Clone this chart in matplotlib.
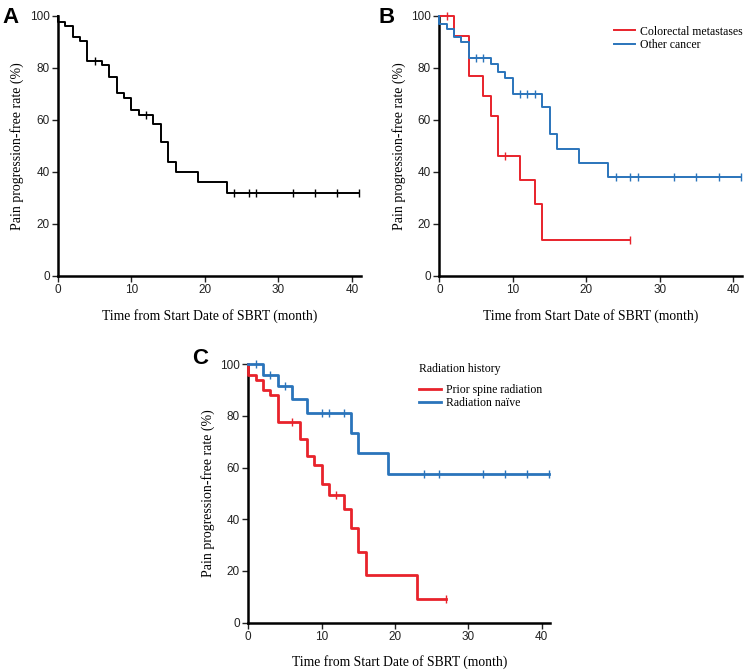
import numpy as np
import matplotlib
matplotlib.use('Agg')
import matplotlib.pyplot as plt

# Panel A: all patients
a_times = [0, 0, 1, 2, 3, 4, 6, 7, 8, 9, 10, 11, 13, 14, 15, 16, 19, 23, 41]
a_surv = [100, 97.5, 96, 92, 90.5, 82.5, 81, 76.5, 70.5, 68.5, 64, 62, 58.5, 51.5, 44, 40, 36, 32, 32]
a_cens = [5, 12, 24, 26, 27, 32, 35, 38, 41]

# Panel B: colorectal metastases vs other cancer
b_red_times = [0, 2, 4, 6, 7, 8, 11, 13, 14, 26]
b_red_surv = [100, 92.3, 76.9, 69.2, 61.5, 46.1, 36.9, 27.7, 13.8, 13.8]
b_red_cens = [1, 9, 26]
b_blue_times = [0, 0, 1, 2, 3, 4, 7, 8, 9, 10, 14, 15, 16, 19, 23, 41]
b_blue_surv = [100, 97, 95, 92, 90, 84, 81.5, 78.5, 76, 70, 65, 54.5, 49, 43.5, 38, 38]
b_blue_cens = [5, 6, 11, 12, 13, 24, 26, 27, 32, 35, 38, 41]

# Panel C: prior spine radiation vs radiation naive
c_red_times = [0, 0, 1, 2, 3, 4, 7, 8, 9, 10, 11, 13, 14, 15, 16, 23, 27]
c_red_surv = [100, 96, 94, 90, 88, 77.5, 71, 64.5, 61, 53.5, 49.5, 44, 36.5, 27.5, 18.5, 9.2, 9.2]
c_red_cens = [6, 12, 27]
c_blue_times = [0, 2, 4, 6, 8, 14, 15, 19, 41]
c_blue_surv = [100, 96, 91.5, 86.5, 81, 73.5, 65.5, 57.5, 57.5]
c_blue_cens = [1, 3, 5, 10, 11, 13, 24, 26, 32, 35, 38, 41]

x_ticks = [0, 10, 20, 30, 40]
y_ticks = [0, 20, 40, 60, 80, 100]

RED = '#e8232b'
BLUE = '#2a74bb'
SERIF = 'Liberation Serif'
SANS = 'Liberation Sans'

plt.rcParams['font.family'] = SANS


def km(ax, times, surv, cens, color, lw, label=None):
    times = np.asarray(times, float)
    surv = np.asarray(surv, float)
    ax.step(times, surv, where='post', color=color, lw=lw, label=label, clip_on=False, zorder=3)
    idx = np.searchsorted(times, cens, side='right') - 1
    ax.plot(cens, surv[idx], ls='none', marker='|', ms=6, mew=1.0, color=color, clip_on=False, zorder=3)


def style(ax):
    ax.set_xlim(0, 41.2)
    ax.set_ylim(0, 100)
    ax.spines['top'].set_visible(False)
    ax.spines['right'].set_visible(False)
    ax.spines['left'].set_linewidth(1.8)
    ax.spines['bottom'].set_linewidth(1.8)
    ax.set_xticks(x_ticks)
    ax.set_yticks(y_ticks)
    ax.tick_params(direction='out', length=4, width=1, labelsize=8.5, pad=2, colors='#222222')
    ax.set_xlabel('Time from Start Date of SBRT (month)', family=SERIF, fontsize=9.8, labelpad=9)
    ax.set_ylabel('Pain progression-free rate (%)', family=SERIF, fontsize=10, labelpad=4)


fig = plt.figure(figsize=(7.46, 6.72), dpi=100)

axA = fig.add_axes([0.0777, 0.5893, 0.4058, 0.3869])
km(axA, a_times, a_surv, a_cens, 'black', 1.4)
style(axA)

axB = fig.add_axes([0.5889, 0.5893, 0.4058, 0.3869])
km(axB, b_red_times, b_red_surv, b_red_cens, RED, 1.4, 'Colorectal metastases')
km(axB, b_blue_times, b_blue_surv, b_blue_cens, BLUE, 1.4, 'Other cancer')
style(axB)
axB.legend(loc='upper left', bbox_to_anchor=(0.577, 0.963), frameon=False, borderpad=0,
           borderaxespad=0, handlelength=1.8, handletextpad=0.4, labelspacing=0.15,
           prop={'family': SERIF, 'size': 8.5})

axC = fig.add_axes([0.3328, 0.0734, 0.4051, 0.3845])
km(axC, c_red_times, c_red_surv, c_red_cens, RED, 2.0, 'Prior spine radiation')
km(axC, c_blue_times, c_blue_surv, c_blue_cens, BLUE, 2.0, 'Radiation naïve')
style(axC)
axC.text(0.565, 0.98, 'Radiation history', transform=axC.transAxes, family=SERIF,
         fontsize=8.5, va='center', ha='left')
axC.legend(loc='upper left', bbox_to_anchor=(0.565, 0.925), frameon=False, borderpad=0,
           borderaxespad=0, handlelength=1.85, handletextpad=0.4, labelspacing=0.15,
           prop={'family': SERIF, 'size': 8.5})

fig.text(0.003, 0.99, 'A', fontsize=16, fontweight='bold', va='top', ha='left')
fig.text(0.508, 0.99, 'B', fontsize=16, fontweight='bold', va='top', ha='left')
fig.text(0.257, 0.482, 'C', fontsize=16, fontweight='bold', va='top', ha='left')

fig.savefig('out.png', dpi=100)
